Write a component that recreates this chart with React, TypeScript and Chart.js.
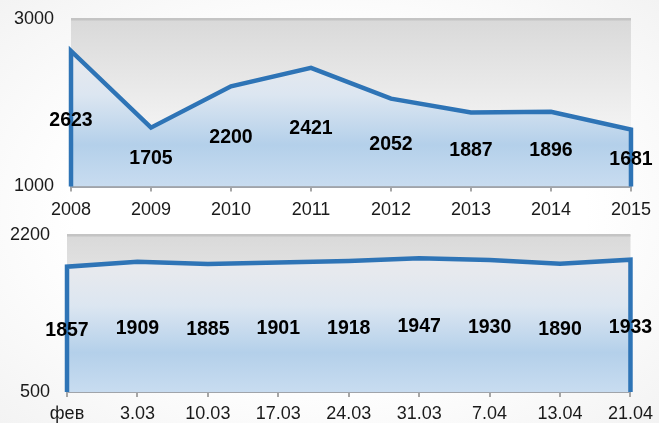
import React, { useEffect, useRef } from "react";
import { Chart, registerables } from "chart.js";

Chart.register(...registerables);

const years = ["2008", "2009", "2010", "2011", "2012", "2013", "2014", "2015"];
const yearValues = [2623, 1705, 2200, 2421, 2052, 1887, 1896, 1681];
const yearAxisTicks = [1000, 3000];

const dates = ["фев", "3.03", "10.03", "17.03", "24.03", "31.03", "7.04", "13.04", "21.04"];
const dateValues = [1857, 1909, 1885, 1901, 1918, 1947, 1930, 1890, 1933];
const dateAxisTicks = [500, 2200];

const FONT = "'Liberation Sans', Arial, sans-serif";
const LINE = "#2e74b6";
const LABEL_SIZE = 19.5;

type Layout = {
  height: number;
  top: number;
  right: number;
  yWidth: number;
  xHeight: number;
  xPad: number;
};

function makeConfig(labels: string[], values: number[], axisTicks: number[], lay: Layout): any {
  const min = axisTicks[0];
  const max = axisTicks[axisTicks.length - 1];
  const n = values.length;
  const pts = [
    { x: 0, y: min },
    ...values.map((v, i) => ({ x: i, y: v })),
    { x: n - 1, y: min },
  ];

  const bgPlugin = {
    id: "plotbg",
    beforeDraw(chart: any) {
      const { ctx, chartArea: ca } = chart;
      if (!ca) return;
      const g = ctx.createLinearGradient(0, ca.top, 0, ca.bottom);
      g.addColorStop(0, "#d9d9d9");
      g.addColorStop(0.6, "#f1f1f1");
      g.addColorStop(1, "#f5f5f5");
      ctx.save();
      ctx.fillStyle = g;
      ctx.fillRect(ca.left, ca.top, ca.right - ca.left, ca.bottom - ca.top);
      ctx.restore();
    },
  };

  const labelPlugin = {
    id: "vlabels",
    afterDatasetsDraw(chart: any) {
      const { ctx, chartArea: ca, scales } = chart;
      ctx.save();
      ctx.font = `bold ${LABEL_SIZE}px ${FONT}`;
      ctx.fillStyle = "#000";
      ctx.textAlign = "center";
      ctx.textBaseline = "alphabetic";
      values.forEach((v, i) => {
        const x = scales.x.getPixelForValue(i);
        const yp = scales.y.getPixelForValue(v);
        const y = (yp + ca.bottom) / 2;
        ctx.fillText(String(v), x, y + LABEL_SIZE * 0.358);
      });
      ctx.restore();
    },
  };

  return {
    type: "line",
    data: {
      datasets: [
        {
          data: pts,
          borderColor: LINE,
          borderWidth: 4.5,
          borderJoinStyle: "miter",
          pointRadius: 0,
          tension: 0,
          fill: "start",
          clip: 6,
          backgroundColor: (c: any) => {
            const ca = c.chart.chartArea;
            if (!ca) return "rgba(0,0,0,0)";
            const g = c.chart.ctx.createLinearGradient(0, ca.top, 0, ca.bottom);
            g.addColorStop(0, "#ebebee");
            g.addColorStop(0.25, "#e6e9ee");
            g.addColorStop(0.45, "#dce6f1");
            g.addColorStop(0.75, "#b4d0ea");
            g.addColorStop(1, "#c8dcf0");
            return g;
          },
        },
      ],
    },
    options: {
      animation: false,
      responsive: false,
      maintainAspectRatio: false,
      layout: { padding: { top: lay.top, right: lay.right, left: 0, bottom: 0 } },
      plugins: { legend: { display: false }, tooltip: { enabled: false } },
      scales: {
        x: {
          type: "linear",
          min: 0,
          max: n - 1,
          afterFit: (s: any) => {
            s.height = lay.xHeight;
          },
          afterBuildTicks: (s: any) => {
            s.ticks = labels.map((_, i) => ({ value: i }));
          },
          ticks: {
            autoSkip: false,
            maxRotation: 0,
            padding: lay.xPad,
            color: "#1a1a1a",
            font: { family: FONT, size: 18 },
            callback: (v: any) => labels[v] ?? "",
          },
          grid: {
            drawOnChartArea: false,
            drawTicks: true,
            tickLength: 5,
            color: "#a6a6a6",
            lineWidth: 2,
          },
          border: { display: true, color: "#a0a4aa", width: 2 },
        },
        y: {
          min,
          max,
          afterFit: (s: any) => {
            s.width = lay.yWidth;
            s.paddingTop = 0;
            s.paddingBottom = 0;
          },
          afterBuildTicks: (s: any) => {
            s.ticks = axisTicks.map((v) => ({ value: v }));
          },
          ticks: {
            padding: 17,
            color: "#1a1a1a",
            font: { family: FONT, size: 18 },
            callback: (v: any) => String(v),
          },
          grid: {
            drawTicks: false,
            drawOnChartArea: true,
            lineWidth: 2.5,
            color: (c: any) => (c.tick && c.tick.value === max ? "#c4c4c4" : "rgba(0,0,0,0)"),
          },
          border: { display: false },
        },
      },
    },
    plugins: [bgPlugin, labelPlugin],
  };
}

function LineChart(props: {
  labels: string[];
  values: number[];
  axisTicks: number[];
  lay: Layout;
  top: number;
}) {
  const ref = useRef<HTMLCanvasElement | null>(null);
  useEffect(() => {
    if (!ref.current) return;
    const chart = new Chart(ref.current, makeConfig(props.labels, props.values, props.axisTicks, props.lay));
    return () => chart.destroy();
  }, []);
  return (
    <canvas
      ref={ref}
      width={659}
      height={props.lay.height}
      style={{ position: "absolute", left: 0, top: props.top, width: 659, height: props.lay.height }}
    />
  );
}

export default function App() {
  return (
    <div
      style={{
        position: "fixed",
        left: 0,
        top: 0,
        width: 659,
        height: 423,
        overflow: "hidden",
        background: "radial-gradient(ellipse at 50% 50%, #ffffff 55%, #f3f3f3 100%)",
      }}
    >
      <LineChart
        labels={years}
        values={yearValues}
        axisTicks={yearAxisTicks}
        top={0}
        lay={{ height: 225, top: 19.5, right: 27, yWidth: 71, xHeight: 38.5, xPad: 8 }}
      />
      <LineChart
        labels={dates}
        values={dateValues}
        axisTicks={dateAxisTicks}
        top={225}
        lay={{ height: 198, top: 10, right: 23, yWidth: 67, xHeight: 31, xPad: 6 }}
      />
    </div>
  );
}
